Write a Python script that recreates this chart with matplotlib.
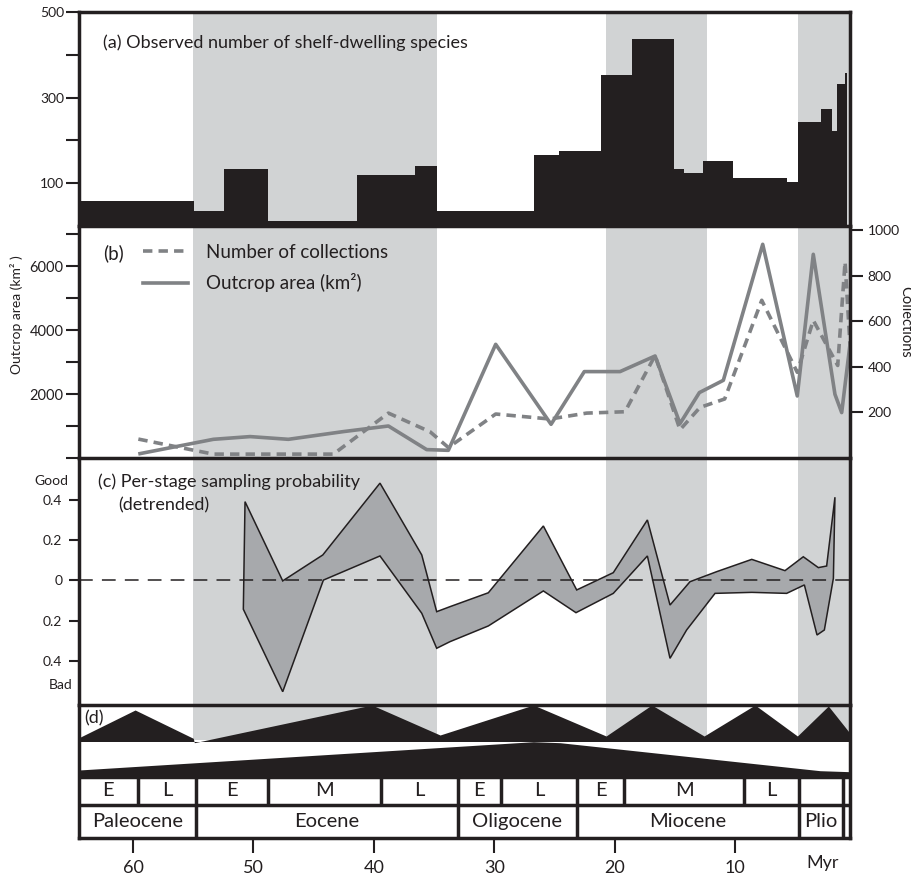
import matplotlib
matplotlib.use('Agg')
import matplotlib.pyplot as plt
import numpy as np
from matplotlib.lines import Line2D

plt.rcParams['font.family'] = ['Lato', 'DejaVu Sans']

W, H = 911, 877
INK = '#231f20'
SHADE = '#d1d3d4'
LINE_GRAY = '#808285'
BAND = '#a7a9ac'

X_OLD, X_YOUNG = 64.49, 0.45

# shaded intervals (Myr)
shade_spans = [(55.0, 34.78), (20.71, 12.35), (4.77, 0.45)]

# (a) observed number of shelf-dwelling species (stage bins)
species_edges = [64.49, 54.93, 52.44, 48.81, 41.40, 36.58, 34.75, 26.72, 24.64,
                 21.16, 18.58, 15.04, 14.21, 12.68, 10.14, 5.71, 4.79, 2.86,
                 1.97, 1.55, 0.84, 0.67]
species_counts = [58.5, 34.4, 133, 12.6, 120, 140, 34.4, 165, 176, 353, 436,
                  133, 124, 151, 111, 102, 243, 274, 222, 331, 358]

# (b) outcrop area (km2) and number of collections
outcrop_age = [59.42, 53.33, 50.28, 47.10, 42.53, 38.79, 35.61, 33.81, 29.88,
               25.28, 22.52, 19.55, 16.64, 14.57, 12.96, 10.97, 7.70, 4.83,
               3.50, 1.70, 1.14, 0.45]
outcrop_area = [137, 584, 669, 584, 825, 1000, 262, 240, 3553, 1053, 2700,
                2700, 3188, 1075, 2044, 2428, 6678, 1938, 6366, 1990, 1419, 3553]
coll_age = [59.56, 56.10, 53.33, 43.36, 38.79, 35.33, 33.81, 29.88, 25.37,
            22.32, 19.14, 16.64, 14.57, 12.91, 10.86, 7.78, 4.83, 3.50, 1.47,
            0.86, 0.45]
coll_count = [83, 46, 17, 17, 197, 115, 46, 193, 171, 197, 203, 450, 124, 222,
              259, 692, 376, 604, 406, 860, 494]

# (c) per-stage sampling probability (detrended), upper / lower bounds
upper_age = [50.70, 47.57, 44.24, 39.49, 36.02, 34.78, 33.67, 30.49, 25.92,
             23.15, 20.11, 17.28, 15.40, 13.74, 11.52, 8.61, 5.85, 4.33, 3.08,
             2.39, 1.70]
upper_val = [0.391, -0.003, 0.126, 0.483, 0.126, -0.156, -0.131, -0.062, 0.270,
             -0.048, 0.038, 0.300, -0.123, -0.007, 0.043, 0.104, 0.048, 0.117,
             0.063, 0.071, 0.413]
lower_age = [50.84, 47.57, 44.19, 39.49, 36.02, 34.78, 33.67, 30.49, 25.92,
             23.21, 20.11, 17.28, 15.40, 14.02, 11.66, 8.61, 5.71, 4.24, 3.19,
             2.58, 1.83, 1.70]
lower_val = [-0.144, -0.554, 0.001, 0.121, -0.164, -0.338, -0.305, -0.227,
             -0.053, -0.161, -0.065, 0.121, -0.388, -0.247, -0.065, -0.060,
             -0.065, -0.023, -0.272, -0.247, 0.010, 0.413]

# (d) sea-level cycles and long-term trend (panel units)
cycle_age = [64.49, 59.83, 55.0, 54.91, 40.17, 34.50, 26.75, 20.71, 16.92,
             12.57, 8.34, 4.82, 2.25, 0.45]
cycle_level = [100.3, 128, 99.7, 95.3, 133, 103, 133, 102, 133, 102, 133, 102,
               132, 104.7]
trend_age = [64.49, 26.75, 24.53, 2.94, 0.45]
trend_level = [68, 96.3, 95.3, 67.3, 66.3]

# timescale
sub_edges = [64.49, 59.6, 54.77, 48.81, 39.40, 33.03, 29.43, 23.12, 19.19,
             9.23, 4.68, 1.0, 0.45]
sub_labels = ['E', 'L', 'E', 'M', 'L', 'E', 'L', 'E', 'M', 'L', '', '']
epoch_edges = [64.49, 54.77, 33.03, 23.12, 4.68, 1.0, 0.45]
epoch_labels = ['Paleocene', 'Eocene', 'Oligocene', 'Miocene', 'Plio', '']

x_ticks = [60, 50, 40, 30, 20, 10]

fig = plt.figure(figsize=(W / 100, H / 100), dpi=100)


def axes_px(x0, y0, x1, y1):
    return fig.add_axes([x0 / W, 1 - y1 / H, (x1 - x0) / W, (y1 - y0) / H])


def ftext(x, y, s, **kw):
    return fig.text(x / W, 1 - y / H, s, **kw)


ax_a = axes_px(79, 12, 850, 226)
ax_b = axes_px(79, 226, 850, 458)
ax_c = axes_px(79, 458, 850, 705)
ax_d = axes_px(79, 705, 850, 838)

SPW = 2.5
for ax in (ax_a, ax_b, ax_c, ax_d):
    ax.set_xlim(X_OLD, X_YOUNG)
    for sp in ax.spines.values():
        sp.set_linewidth(SPW)
        sp.set_color(INK)
    ax.tick_params(colors=INK, width=1.5)
for ax in (ax_a, ax_b, ax_c):
    ax.spines['bottom'].set_visible(False)
    ax.set_xticks([])
    for s, e in shade_spans:
        ax.axvspan(s, e, color=SHADE, lw=0, zorder=0)

# ---- (a)
ax_a.bar(species_edges[:-1], height=species_counts, width=np.diff(species_edges),
         align='edge', color=INK, lw=0, zorder=1)
ax_a.set_ylim(0, 500)
ax_a.set_yticks([100, 200, 300, 400, 500])
ax_a.set_yticklabels(['100', '', '300', '', '500'])
ax_a.tick_params(axis='y', direction='out', length=9.5, pad=1, labelsize=10)
ftext(103, 43, '(a) Observed number of shelf-dwelling species', fontsize=13,
      va='center', ha='left', color=INK)

# ---- (b)
ax_b.plot(outcrop_age, outcrop_area, color=LINE_GRAY, lw=2.6, zorder=2)
ax_b.set_ylim(0, 7250)
ax_b.set_yticks(range(0, 8000, 1000))
ax_b.set_yticklabels(['', '', '2000', '', '4000', '', '6000', ''])
ax_b.tick_params(axis='y', direction='out', length=9.5, pad=1.5, labelsize=10.5)
ax_b.spines['right'].set_visible(False)

ax_b2 = ax_b.twinx()
ax_b2.set_xlim(X_OLD, X_YOUNG)
ax_b2.plot(coll_age, coll_count, color=LINE_GRAY, lw=2.6, dashes=(2.6, 1.7),
           zorder=2)
ax_b2.set_ylim(0, 1018)
ax_b2.set_yticks([200, 400, 600, 800, 1000])
for k in ('left', 'top', 'bottom'):
    ax_b2.spines[k].set_visible(False)
ax_b2.spines['right'].set_linewidth(SPW)
ax_b2.spines['right'].set_color(INK)
ax_b2.tick_params(axis='y', direction='out', length=9.5, width=1.5, pad=3,
                  labelsize=10, colors=INK)

h1 = Line2D([], [], color=LINE_GRAY, lw=2.6, dashes=(2.6, 1.7))
h2 = Line2D([], [], color=LINE_GRAY, lw=2.6)
ax_b2.legend([h1, h2], ['Number of collections', 'Outcrop area (km²)'],
             loc='upper left', bbox_to_anchor=(143 / W, 1 - 244 / H),
             bbox_transform=fig.transFigure, frameon=False, borderpad=0,
             borderaxespad=0, handlelength=2.4, handletextpad=0.95,
             labelspacing=0.65, fontsize=13.5, labelcolor=INK)
ftext(103, 253, '(b)', fontsize=13.5, va='center', ha='left', color=INK)
ftext(17, 315, 'Outcrop area (km² )', fontsize=10, rotation=90, va='center',
      ha='center', color=INK)
ftext(905, 322, 'Collections', fontsize=10.5, rotation=270, va='center',
      ha='center', color=INK)

# ---- (c)
poly_x = upper_age + lower_age[::-1]
poly_y = upper_val + lower_val[::-1]
ax_c.fill(poly_x, poly_y, facecolor=BAND, edgecolor=INK, lw=1.1, zorder=2)
ax_c.axhline(0, color=INK, lw=1.1, dashes=(9, 6), zorder=3)
ax_c.set_ylim(-0.62, 0.608)
ax_c.set_yticks([0.4, 0.2, 0, -0.2, -0.4])
ax_c.set_yticklabels(['0.4', '0.2', '0', '0.2', '0.4'])
ax_c.tick_params(axis='y', direction='out', length=7.5, pad=4.5, labelsize=10)
ftext(68, 481, 'Good', fontsize=10, ha='right', va='center', color=INK)
ftext(72, 685, 'Bad', fontsize=10, ha='right', va='center', color=INK)
ftext(98, 482, '(c) Per-stage sampling probability', fontsize=13, ha='left',
      va='center', color=INK)
ftext(118, 505, '(detrended)', fontsize=13, ha='left', va='center', color=INK)

# ---- (d) + timescale
ax_d.set_ylim(0, 133)
ax_d.set_yticks([])
for s, e in shade_spans:
    ax_d.axvspan(s, e, ymin=98 / 133, ymax=1, color=SHADE, lw=0, zorder=0)
ax_d.fill_between(cycle_age, cycle_level, 96.5, color=INK, lw=0, zorder=2)
ax_d.fill_between(trend_age, trend_level, 60, color=INK, lw=0, zorder=2)
ax_d.axhline(61, color=INK, lw=SPW, zorder=3)
ax_d.axhline(33, color=INK, lw=SPW, zorder=3)
epoch_inner = epoch_edges[1:-1]
for b in sub_edges[1:-1]:
    if b in epoch_inner:
        ax_d.plot([b, b], [0, 61], color=INK, lw=SPW, zorder=3,
                  solid_capstyle='butt')
    else:
        ax_d.plot([b, b], [33, 61], color=INK, lw=SPW, zorder=3,
                  solid_capstyle='butt')
for i, lab in enumerate(sub_labels):
    if lab:
        ax_d.text((sub_edges[i] + sub_edges[i + 1]) / 2, 47, lab, fontsize=14.5,
                  ha='center', va='center', color=INK)
for i, lab in enumerate(epoch_labels):
    if lab:
        ax_d.text((epoch_edges[i] + epoch_edges[i + 1]) / 2, 16.5, lab,
                  fontsize=14.5, ha='center', va='center', color=INK)
ftext(84, 718, '(d)', fontsize=13, ha='left', va='center', color=INK)

ax_d.set_xticks(x_ticks)
ax_d.set_xticklabels([str(t) for t in x_ticks])
ax_d.tick_params(axis='x', direction='out', length=10.5, width=1.5, pad=5,
                 labelsize=13, colors=INK)
ftext(823, 863, 'Myr', fontsize=13, ha='center', va='center', color=INK)

fig.savefig('out.png', dpi=100)
